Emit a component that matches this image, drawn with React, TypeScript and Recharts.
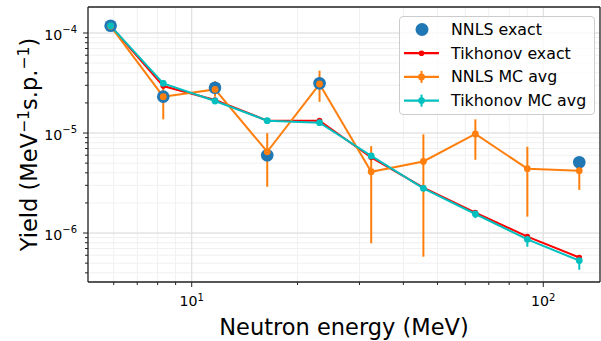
import {
  ComposedChart,
  Line,
  Scatter,
  ErrorBar,
  XAxis,
  YAxis,
  CartesianGrid,
  ReferenceLine,
  Legend,
} from 'recharts';

// Neutron energy bin centres (MeV)
const energy = [5.88, 8.3, 11.65, 16.4, 23.1, 32.4, 45.6, 64.1, 90.1, 126.6];

// NNLS exact (zero bins not drawn on log axis)
const nnlsExact = [1.18e-4, 2.31e-5, 2.84e-5, 6.0e-6, 3.14e-5, null, null, null, null, 5.1e-6];

// Tikhonov exact
const tikExact = [1.18e-4, 2.95e-5, 2.14e-5, 1.33e-5, 1.33e-5, 5.7e-6, 2.84e-6, 1.6e-6, 9.2e-7, 5.7e-7];

// NNLS MC average with lower / upper bounds
const nnlsMc = [1.17e-4, 2.31e-5, 2.73e-5, 6.5e-6, 3.09e-5, 4.1e-6, 5.2e-6, 9.8e-6, 4.4e-6, 4.2e-6];
const nnlsMcLow = [1.12e-4, 1.37e-5, 2.31e-5, 2.9e-6, 2.05e-5, 7.9e-7, 5.8e-7, 5.4e-6, 1.46e-6, 2.7e-6];
const nnlsMcHigh = [1.22e-4, 3.26e-5, 3.3e-5, 1.0e-5, 4.2e-5, 7.4e-6, 9.7e-6, 1.37e-5, 7.3e-6, 5.5e-6];

// Tikhonov MC average with lower / upper bounds
const tikMc = [1.18e-4, 3.14e-5, 2.09e-5, 1.33e-5, 1.27e-5, 5.9e-6, 2.8e-6, 1.55e-6, 8.65e-7, 5.3e-7];
const tikMcLow = [1.15e-4, 2.82e-5, 2.02e-5, 1.29e-5, 1.23e-5, 5.6e-6, 2.65e-6, 1.41e-6, 7.3e-7, 4.3e-7];
const tikMcHigh = [1.21e-4, 3.39e-5, 2.16e-5, 1.37e-5, 1.31e-5, 6.2e-6, 2.95e-6, 1.64e-6, 9.2e-7, 6.0e-7];

const xTicks = [6, 7, 8, 9, 10, 20, 30, 40, 50, 60, 70, 80, 90, 100];
const yTicks = [
  4e-7, 5e-7, 6e-7, 7e-7, 8e-7, 9e-7, 1e-6,
  2e-6, 3e-6, 4e-6, 5e-6, 6e-6, 7e-6, 8e-6, 9e-6, 1e-5,
  2e-5, 3e-5, 4e-5, 5e-5, 6e-5, 7e-5, 8e-5, 9e-5, 1e-4,
];
const xMajor = [10, 100];
const yMajor = [1e-6, 1e-5, 1e-4];

const X_DOMAIN: [number, number] = [5.07, 145];
const Y_DOMAIN: [number, number] = [3.24e-7, 1.82e-4];

const BLUE = '#1f77b4';
const RED = '#ff0000';
const ORANGE = '#ff7f0e';
const CYAN = '#00bfbf';
const FONT = '"DejaVu Sans", sans-serif';

const rows = energy.map((e, i) => ({
  e,
  tik: tikExact[i],
  nnls: nnlsMc[i],
  nnlsErr: [nnlsMc[i] - nnlsMcLow[i], nnlsMcHigh[i] - nnlsMc[i]],
  tikMc: tikMc[i],
  tikErr: [tikMc[i] - tikMcLow[i], tikMcHigh[i] - tikMc[i]],
}));

const nnlsPoints = energy
  .map((e, i) => ({ e, y: nnlsExact[i] }))
  .filter((p) => p.y !== null);

const isMajor = (v: number) => Math.abs(Math.log10(v) - Math.round(Math.log10(v))) < 1e-6;

function XTick(props: any) {
  const { x, y, payload } = props;
  const major = isMajor(payload.value);
  const exp = Math.round(Math.log10(payload.value));
  return (
    <g>
      <line x1={x} x2={x} y1={y} y2={y + (major ? 5 : 3)} stroke="#222" strokeWidth={1} />
      {major && (
        <text x={x} y={y + 24} textAnchor="middle" fontSize={14.2} fontFamily={FONT} fill="#000">
          10
          <tspan dy={-5.5} fontSize={10}>
            {exp}
          </tspan>
        </text>
      )}
    </g>
  );
}

function YTick(props: any) {
  const { x, y, payload } = props;
  const major = isMajor(payload.value);
  const exp = Math.round(Math.log10(payload.value));
  return (
    <g>
      <line x1={x} x2={x - (major ? 5 : 3)} y1={y} y2={y} stroke="#222" strokeWidth={1} />
      {major && (
        <text x={x - 11} y={y + 7} textAnchor="end" fontSize={14.2} fontFamily={FONT} fill="#000">
          10
          <tspan dy={-7.5} fontSize={10}>
            {'\u2212' + Math.abs(exp)}
          </tspan>
        </text>
      )}
    </g>
  );
}

function LegendBox() {
  const items = [
    { label: 'NNLS exact', color: BLUE, kind: 'dot' },
    { label: 'Tikhonov exact', color: RED, kind: 'line' },
    { label: 'NNLS MC avg', color: ORANGE, kind: 'err' },
    { label: 'Tikhonov MC avg', color: CYAN, kind: 'err' },
  ];
  return (
    <div
      style={{
        width: 196,
        height: 99,
        boxSizing: 'border-box',
        border: '1px solid #cccccc',
        borderRadius: 4,
        background: 'rgba(255,255,255,0.8)',
      }}
    >
      <svg width={194} height={97} style={{ display: 'block' }}>
        {items.map((it, i) => {
          const cy = 12.5 + i * 23.7;
          return (
            <g key={it.label}>
              {it.kind === 'dot' ? (
                <circle cx={22} cy={cy} r={6.5} fill={it.color} />
              ) : (
                <>
                  <line x1={4} x2={39} y1={cy} y2={cy} stroke={it.color} strokeWidth={2.2} />
                  {it.kind === 'err' && (
                    <line x1={21.5} x2={21.5} y1={cy - 6} y2={cy + 6} stroke={it.color} strokeWidth={2} />
                  )}
                  <circle cx={21.5} cy={cy} r={it.kind === 'err' ? 3.4 : 2.8} fill={it.color} />
                </>
              )}
              <text
                x={51}
                y={cy}
                dominantBaseline="central"
                fontSize={15.8}
                fontFamily={FONT}
                fill="#000"
              >
                {it.label}
              </text>
            </g>
          );
        })}
      </svg>
    </div>
  );
}

export default function App() {
  return (
    <div style={{ position: 'absolute', left: 0, top: 0, background: '#fff' }}>
      <ComposedChart
        width={601}
        height={341}
        data={rows}
        margin={{ top: 7, right: 1, bottom: 0, left: 0 }}
      >
        <CartesianGrid stroke="#f0f0f0" strokeWidth={1} />
        {xMajor.map((v) => (
          <ReferenceLine key={'gx' + v} x={v} stroke="#dedede" strokeWidth={1} />
        ))}
        {yMajor.map((v) => (
          <ReferenceLine key={'gy' + v} y={v} stroke="#dedede" strokeWidth={1} />
        ))}
        <XAxis
          dataKey="e"
          type="number"
          scale="log"
          domain={X_DOMAIN}
          allowDataOverflow
          ticks={xTicks}
          interval={0}
          height={59}
          tickSize={0}
          tickMargin={0}
          tickLine={false}
          axisLine={{ stroke: '#222', strokeWidth: 1.3 }}
          tick={(p: any) => <XTick {...p} />}
          label={(p: any) => {
            const vb = p.viewBox;
            return (
              <text
                x={vb.x + vb.width / 2}
                y={335}
                textAnchor="middle"
                fontSize={22.5}
                fontFamily={FONT}
                fill="#000"
              >
                Neutron energy (MeV)
              </text>
            );
          }}
        />
        <YAxis
          type="number"
          scale="log"
          domain={Y_DOMAIN}
          allowDataOverflow
          ticks={yTicks}
          interval={0}
          width={88}
          tickSize={0}
          tickMargin={0}
          tickLine={false}
          axisLine={{ stroke: '#222', strokeWidth: 1.3 }}
          tick={(p: any) => <YTick {...p} />}
          label={(p: any) => {
            const vb = p.viewBox;
            const cy = vb.y + vb.height / 2;
            return (
              <text
                transform={`translate(37, ${cy}) rotate(-90)`}
                x={0}
                y={0}
                textAnchor="middle"
                fontSize={22.5}
                fontFamily={FONT}
                fill="#000"
              >
                Yield (MeV
                <tspan dy={-8} fontSize={15.7}>{'\u22121'}</tspan>
                <tspan dy={8}>s.p.</tspan>
                <tspan dy={-8} fontSize={15.7}>{'\u22121'}</tspan>
                <tspan dy={8}>)</tspan>
              </text>
            );
          }}
        />
        <ReferenceLine y={Y_DOMAIN[1]} stroke="#222" strokeWidth={1.3} ifOverflow="visible" />
        <ReferenceLine x={X_DOMAIN[1]} stroke="#222" strokeWidth={1.3} ifOverflow="visible" />

        <Scatter
          data={nnlsPoints}
          dataKey="y"
          isAnimationActive={false}
          shape={(p: any) => <circle cx={p.cx} cy={p.cy} r={6.3} fill={BLUE} />}
        />
        <Line
          dataKey="tik"
          stroke={RED}
          strokeWidth={2}
          dot={{ r: 2.8, fill: RED, stroke: RED, strokeWidth: 0 }}
          activeDot={false}
          isAnimationActive={false}
        />
        <Line
          dataKey="nnls"
          stroke={ORANGE}
          strokeWidth={2}
          dot={{ r: 3.4, fill: ORANGE, stroke: ORANGE, strokeWidth: 0 }}
          activeDot={false}
          isAnimationActive={false}
        >
          <ErrorBar dataKey="nnlsErr" direction="y" width={0} stroke={ORANGE} strokeWidth={2} isAnimationActive={false} />
        </Line>
        <Line
          dataKey="tikMc"
          stroke={CYAN}
          strokeWidth={2}
          dot={{ r: 3.4, fill: CYAN, stroke: CYAN, strokeWidth: 0 }}
          activeDot={false}
          isAnimationActive={false}
        >
          <ErrorBar dataKey="tikErr" direction="y" width={0} stroke={CYAN} strokeWidth={2} isAnimationActive={false} />
        </Line>

        <Legend
          layout="vertical"
          align="center"
          verticalAlign="middle"
          content={() => <LegendBox />}
          wrapperStyle={{ position: 'absolute', left: 399, top: 16, width: 196, height: 99 }}
        />
      </ComposedChart>
    </div>
  );
}
